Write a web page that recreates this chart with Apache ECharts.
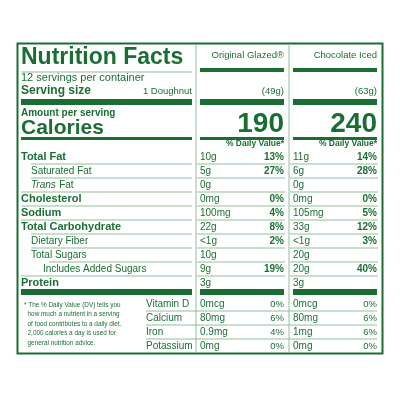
<!DOCTYPE html>
<html>
<head>
<meta charset="utf-8">
<script src="https://cdn.jsdelivr.net/npm/echarts@6/dist/echarts.min.js"></script>
<style>html,body{margin:0;padding:0;background:#fff}#main{width:400px;height:400px}</style>
</head>
<body>
<div id="main"></div>
<script>
// label data
var products = ['Original Glazed®', 'Chocolate Iced'];
var servingWeights = ['(49g)', '(63g)'];
var calories = ['190', '240'];
var nutrients = ['Total Fat', 'Saturated Fat', 'Trans Fat', 'Cholesterol', 'Sodium', 'Total Carbohydrate', 'Dietary Fiber', 'Total Sugars', 'Includes Added Sugars', 'Protein'];
var nutrientIndent = [0, 1, 1, 0, 0, 0, 1, 1, 2, 0];
var nutrientBold = [1, 0, 0, 1, 1, 1, 0, 0, 0, 1];
var glazedAmounts = ['10g', '5g', '0g', '0mg', '100mg', '22g', '<1g', '10g', '9g', '3g'];
var glazedDV = ['13%', '27%', '', '0%', '4%', '8%', '2%', '', '19%', ''];
var icedAmounts = ['11g', '6g', '0g', '0mg', '105mg', '33g', '<1g', '20g', '20g', '3g'];
var icedDV = ['14%', '28%', '', '0%', '5%', '12%', '3%', '', '40%', ''];
var vitamins = ['Vitamin D', 'Calcium', 'Iron', 'Potassium'];
var glazedVit = ['0mcg', '80mg', '0.9mg', '0mg'];
var glazedVitDV = ['0%', '6%', '4%', '0%'];
var icedVit = ['0mcg', '80mg', '1mg', '0mg'];
var icedVitDV = ['0%', '6%', '6%', '0%'];
var footnote = '* The % Daily Value (DV) tells you\n  how much a nutrient in a serving\n  of food contributes to a daily diet.\n  2,000 calories a day is used for\n  general nutrition advice.';

var G = '#1b6e33', L = '#8fbf98';
var F = 'Liberation Sans, Arial, sans-serif';
var els = [];
function txt(x, y, s, size, weight, align, fill) {
    els.push({type: 'text', x: x, y: y, style: {text: s, font: (weight || 'normal') + ' ' + size + 'px ' + F,
        fill: fill || G, align: align || 'left', verticalAlign: 'middle'}});
}
function rect(x, y, w, h, c) {
    els.push({type: 'rect', shape: {x: x, y: y, width: w, height: h}, style: {fill: c || G}});
}
function line(x1, y1, x2, y2, c, w) {
    els.push({type: 'line', shape: {x1: x1, y1: y1, x2: x2, y2: y2}, style: {stroke: c || L, lineWidth: w || 1}});
}

var cx = [200, 293], cr = [284, 377];
// border
els.push({type: 'rect', shape: {x: 17.5, y: 43.5, width: 365, height: 310}, style: {fill: 'none', stroke: G, lineWidth: 2}});
line(196, 45, 196, 352, L, 1);
line(289, 45, 289, 352, L, 1);

txt(21, 58, 'Nutrition Facts', 23, 'bold');
txt(21, 78, '12 servings per container', 11);
txt(21, 91, 'Serving size', 12, 'bold');
txt(192, 91, '1 Doughnut', 9.5, 'normal', 'right');
line(21, 72, 192, 72, L, 1);
rect(21, 99, 171, 6);
txt(21, 113, 'Amount per serving', 10, 'bold');
txt(21, 128, 'Calories', 21, 'bold');
rect(21, 137, 171, 3);
rect(21, 289, 171, 6);

for (var p = 0; p < 2; p++) {
    txt(cr[p], 55, products[p], 9.5, 'normal', 'right');
    rect(cx[p], 68, cr[p] - cx[p], 4);
    txt(cr[p], 91, servingWeights[p], 9.5, 'normal', 'right');
    rect(cx[p], 99, cr[p] - cx[p], 6);
    txt(cr[p], 124, calories[p], 28, 'bold', 'right');
    rect(cx[p], 137, cr[p] - cx[p], 3);
    txt(cr[p], 144, '% Daily Value*', 8.5, 'bold', 'right');
    rect(cx[p], 289, cr[p] - cx[p], 6);
}

var amts = [glazedAmounts, icedAmounts], dvs = [glazedDV, icedDV];
for (var i = 0; i < nutrients.length; i++) {
    var y = 157 + i * 14;
    var ind = [0, 10, 22][nutrientIndent[i]];
    if (i === 2) {
        els.push({type: 'text', x: 31, y: y, style: {rich: {i: {fontStyle: 'italic', fontFamily: F, fontSize: 10, fill: G}, n: {fontFamily: F, fontSize: 10, fill: G}},
            text: '{i|Trans} {n|Fat}', verticalAlign: 'middle'}});
    } else {
        txt(21 + ind, y, nutrients[i], nutrientBold[i] ? 11 : 10, nutrientBold[i] ? 'bold' : 'normal');
    }
    for (var q = 0; q < 2; q++) {
        txt(cx[q], y, amts[q][i], 10);
        if (dvs[q][i]) txt(cr[q], y, dvs[q][i], 10, 'bold', 'right');
        if (i < nutrients.length - 1) line(cx[q] - 3, y + 7, cr[q] + 1, y + 7);
    }
    if (i < nutrients.length - 1) line(21 + (i === 7 ? 28 : (nutrientIndent[i + 1] ? 10 : 0)), y + 7, 192, y + 7);
}

var vAmts = [glazedVit, icedVit], vDvs = [glazedVitDV, icedVitDV];
for (var j = 0; j < vitamins.length; j++) {
    var vy = 304 + j * 14;
    txt(146, vy, vitamins[j], 10);
    for (var r = 0; r < 2; r++) {
        txt(cx[r], vy, vAmts[r][j], 10);
        txt(cr[r], vy, vDvs[r][j], 9.5, 'normal', 'right');
    }
    if (j < vitamins.length - 1) line(146, vy + 7, 377, vy + 7);
}
els.push({type: 'text', x: 24, y: 300, style: {text: footnote, font: '6.4px ' + F, fill: G, lineHeight: 9.5, verticalAlign: 'top'}});

var chart = echarts.init(document.getElementById('main'));
chart.setOption({animation: false, graphic: els});
</script>
</body>
</html>
